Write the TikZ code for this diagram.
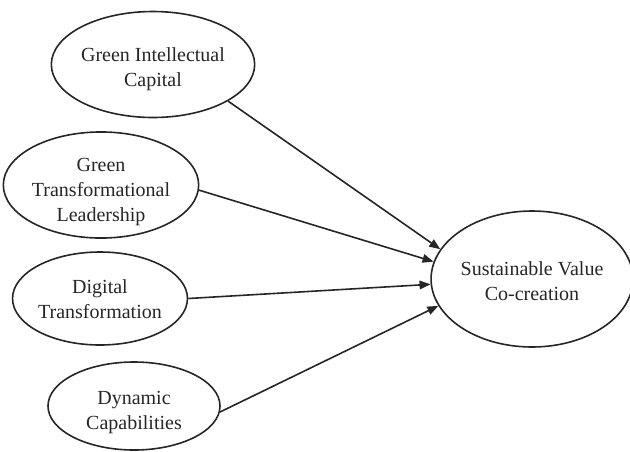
\documentclass[tikz,border=0pt]{standalone}
\usepackage{fontspec}
\setmainfont{Liberation Serif}
\usetikzlibrary{shapes.geometric,arrows.meta}
\newcommand{\etext}[2]{\raisebox{#1}[\height][\depth]{\begin{tabular}{@{}c@{}}#2\end{tabular}}}
\begin{document}
\begin{tikzpicture}[x=1pt,y=-1pt,
  construct/.style={ellipse,draw=black!85,line width=1.6pt,inner sep=0pt,
    font=\fontsize{20}{25}\selectfont,text=black!85},
  path/.style={line width=1.6pt,draw=black!85,-{Triangle[length=11pt,width=8.5pt]}}]
\useasboundingbox (0,0) rectangle (630,451);
\node[construct,minimum width=192pt,minimum height=106pt] (gic) at (153,64.5)
  {\etext{-4pt}{Green Intellectual\\Capital}};
\node[construct,minimum width=186pt,minimum height=106pt] (gtl) at (101,185)
  {\etext{-6pt}{Green\\Transformational\\Leadership}};
\node[construct,minimum width=170pt,minimum height=93pt] (dt) at (100,298.5)
  {\etext{-2.5pt}{Digital\\Transformation}};
\node[construct,minimum width=172pt,minimum height=88pt] (dc) at (134,406)
  {\etext{-6pt}{Dynamic\\Capabilities}};
\node[construct,minimum width=194pt,minimum height=136pt] (svc) at (532,279)
  {\etext{-4pt}{Sustainable Value\\Co-creation}};
\draw[path] (gic.-26) -- (svc.162.4);
\draw[path] (gtl.-3) -- (svc.170.6);
\draw[path] (dt.0) -- (svc.183.5);
\draw[path] (dc.-4) -- (svc.196.9);
\end{tikzpicture}
\end{document}
